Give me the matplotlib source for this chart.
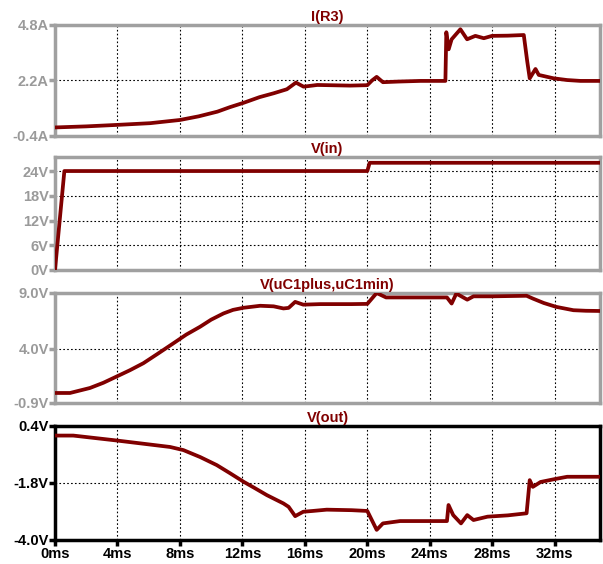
import matplotlib
matplotlib.use("Agg")
import matplotlib.pyplot as plt

plt.rcParams['font.family'] = ['Liberation Sans', 'DejaVu Sans']

# time axis in ms
t_ir3 = [0, 2, 4, 6.1, 8.0, 9.2, 10.4, 11.2, 12.1, 13.1, 14.0, 14.85, 15.43, 15.92,
         16.8, 18.9, 20.0, 20.3, 20.6, 21.0, 22.0, 23.4, 25.0, 25.06, 25.21, 25.4,
         25.96, 26.39, 26.92, 27.46, 27.99, 29, 30.02, 30.24, 30.4, 30.77, 30.98,
         31.94, 32.8, 33.65, 35]
i_r3 = [0.0, 0.05, 0.12, 0.2, 0.35, 0.52, 0.74, 0.95, 1.16, 1.42, 1.6, 1.79, 2.1, 1.91,
        1.99, 1.96, 1.98, 2.2, 2.37, 2.12, 2.15, 2.18, 2.18, 4.46, 3.66, 4.13, 4.6,
        4.13, 4.29, 4.18, 4.29, 4.3, 4.33, 3.1, 2.3, 2.74, 2.46, 2.3, 2.22, 2.18, 2.18]

t_vin = [0, 0.6, 20.0, 20.15, 35]
v_in = [0, 24, 24, 26, 26]

t_uc1 = [0, 0.96, 2.24, 3.1, 3.96, 4.8, 5.66, 6.6, 7.58, 8.4, 9.29, 10.0, 10.79, 11.4,
         12.07, 13.14, 14.0, 14.63, 14.96, 15.38, 15.9, 17, 19, 20.0, 20.6, 21.2, 23,
         25.1, 25.4, 25.7, 26.4, 26.8, 28, 30.2, 30.6, 31.3, 32.1, 33.2, 34, 35]
v_uc1 = [0.0, 0.0, 0.45, 0.92, 1.49, 2.05, 2.68, 3.55, 4.47, 5.25, 5.96, 6.6, 7.16, 7.48,
         7.67, 7.85, 7.8, 7.61, 7.66, 8.2, 7.95, 8.0, 8.0, 8.02, 9.0, 8.6, 8.6, 8.6,
         8.05, 8.95, 8.4, 8.7, 8.7, 8.75, 8.5, 8.1, 7.75, 7.45, 7.4, 7.38]

t_out = [0, 1.17, 3.95, 7.37, 8.22, 9.3, 10.36, 11.2, 12.07, 12.8, 13.57, 14.63, 14.96,
         15.38, 15.9, 16.5, 17.4, 19, 20.0, 20.6, 21.0, 22.1, 25.1, 25.2, 25.5, 26.0,
         26.4, 26.8, 27.7, 29, 30.2, 30.4, 30.6, 31.1, 32, 32.8, 35]
v_out = [0.03, 0.03, -0.16, -0.41, -0.53, -0.8, -1.11, -1.42, -1.75, -2.0, -2.27, -2.59,
         -2.72, -3.08, -2.91, -2.88, -2.83, -2.85, -2.88, -3.61, -3.36, -3.27, -3.27,
         -2.65, -3.04, -3.36, -3.04, -3.23, -3.1, -3.05, -2.97, -1.69, -1.95, -1.76,
         -1.65, -1.56, -1.56]

titles = ["I(R3)", "V(in)", "V(uC1plus,uC1min)", "V(out)"]
x_ticks = [0, 4, 8, 12, 16, 20, 24, 28, 32]
x_labels = ["%dms" % v for v in x_ticks]
y_ticks = [[-0.4, 2.2, 4.8], [0, 6, 12, 18, 24], [-0.9, 4.0, 9.0], [-4.0, -1.8, 0.4]]
y_labels = [["-0.4A", "2.2A", "4.8A"], ["0V", "6V", "12V", "18V", "24V"],
            ["-0.9V", "4.0V", "9.0V"], ["-4.0V", "-1.8V", "0.4V"]]
y_lims = [(-0.4, 4.8), (0, 27.4), (-0.9, 9.0), (-4.0, 0.4)]
series = [(t_ir3, i_r3), (t_vin, v_in), (t_uc1, v_uc1), (t_out, v_out)]

# panel boxes in figure fractions [left, bottom, width, height]
boxes = [[0.0912, 0.7589, 0.9038, 0.1968],
         [0.0912, 0.5213, 0.9038, 0.2003],
         [0.0912, 0.2855, 0.9038, 0.1950],
         [0.0912, 0.0426, 0.9038, 0.2021]]

red = "#800000"
fig = plt.figure(figsize=(6.03, 5.64), dpi=100)

for k in range(4):
    ax = fig.add_axes(boxes[k])
    last = (k == 3)
    frame = "black" if last else "#a0a0a0"
    tcol = "black" if last else "#9a9a9a"
    ax.plot(series[k][0], series[k][1], color=red, lw=2.7, solid_joinstyle="round", zorder=3)
    ax.set_xlim(0, 34.9)
    ax.set_ylim(*y_lims[k])
    for s in ax.spines.values():
        s.set_color(frame)
        s.set_linewidth(2.5)
    for xv in x_ticks[1:]:
        ax.axvline(xv, color="black", lw=0.8, ls=(0, (1.5, 2)), zorder=1)
    for yv in y_ticks[k][1:]:
        if yv < y_lims[k][1] - 1e-6:
            ax.axhline(yv, color="black", lw=0.8, ls=(0, (1.5, 2)), zorder=1)
    ax.set_yticks(y_ticks[k])
    ax.set_yticklabels(y_labels[k], fontsize=10.5, fontweight="bold", color=tcol)
    ax.tick_params(axis="y", direction="out", length=4, width=2.5, color=frame, pad=0.5)
    if last:
        ax.set_xticks(x_ticks)
        ax.set_xticklabels(x_labels, fontsize=10.5, fontweight="bold", color="black")
        ax.tick_params(axis="x", direction="out", length=4, width=2.5, color="black", pad=1)
    else:
        ax.set_xticks([])
    ax.set_title(titles[k], fontsize=10.5, fontweight="bold", color=red, pad=3)

fig.savefig("out.png", dpi=100)
